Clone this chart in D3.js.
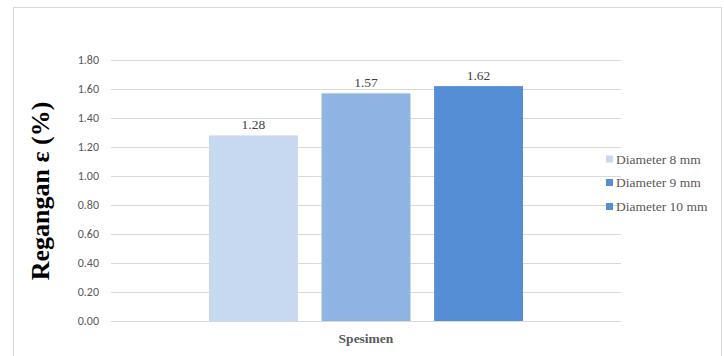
<!DOCTYPE html>
<html>
<head>
<meta charset="utf-8">
<script src="https://cdn.jsdelivr.net/npm/d3@7"></script>
<style>
  html, body { margin: 0; padding: 0; background: #fff; }
  svg { display: block; }
  .serif { font-family: "Liberation Serif", "Times New Roman", Tinos, "DejaVu Serif", serif; }
</style>
</head>
<body>
<svg id="chart" width="724" height="356"></svg>
<script>
// Strain per specimen diameter
const categories = ["Spesimen"];
const seriesNames = ["Diameter 8 mm", "Diameter 9 mm", "Diameter 10 mm"];
const seriesValues = [1.28, 1.57, 1.62];
const barColors = ["#c6d9f0", "#8eb4e3", "#558ed5"];
const legendColors = ["#c6d9f0", "#558ed5", "#558ed5"];
const yTicks = [0, 0.2, 0.4, 0.6, 0.8, 1.0, 1.2, 1.4, 1.6, 1.8];

const svg = d3.select("#chart");

// Outer chart frame
svg.append("rect")
  .attr("x", 13.5).attr("y", 7.5)
  .attr("width", 708).attr("height", 360)
  .attr("fill", "#fff").attr("stroke", "#d9d9d9").attr("stroke-width", 1);

const plot = { left: 111, right: 621, top: 60, bottom: 321 };

const y = d3.scaleLinear().domain([0, 1.8]).range([plot.bottom, plot.top]);
const x0 = d3.scaleBand().domain(categories).range([plot.left, plot.right])
  .paddingInner(0).paddingOuter(0.312);
const x1 = d3.scaleBand().domain(seriesNames).range([0, x0.bandwidth()])
  .paddingInner(0.21).paddingOuter(0);

// Gridlines
svg.append("g").selectAll("line").data(yTicks).join("line")
  .attr("x1", plot.left).attr("x2", plot.right)
  .attr("y1", d => Math.round(y(d)) + 0.5).attr("y2", d => Math.round(y(d)) + 0.5)
  .attr("stroke", "#d9d9d9").attr("stroke-width", 1);

// Y axis tick labels
const yAxis = d3.axisLeft(y).tickValues(yTicks).tickFormat(d3.format(".2f"))
  .tickSize(0).tickPadding(0);
const gy = svg.append("g").attr("transform", `translate(${plot.left - 12},0)`).call(yAxis);
gy.select(".domain").remove();
gy.selectAll("text")
  .attr("fill", "#595959")
  .style("font-family", "Carlito, 'Liberation Sans', sans-serif")
  .style("font-size", "12px");

// Bars
const groups = svg.append("g").selectAll("g").data(categories).join("g")
  .attr("transform", d => `translate(${x0(d)},0)`);

groups.selectAll("rect").data(seriesNames.map((s, i) => ({ s, v: seriesValues[i], c: barColors[i] })))
  .join("rect")
  .attr("x", d => x1(d.s))
  .attr("width", x1.bandwidth())
  .attr("y", d => y(d.v))
  .attr("height", d => y(0) - y(d.v))
  .attr("fill", d => d.c);

// Value labels
groups.selectAll("text").data(seriesNames.map((s, i) => ({ s, v: seriesValues[i] })))
  .join("text")
  .attr("class", "serif")
  .attr("x", d => x1(d.s) + x1.bandwidth() / 2)
  .attr("y", d => y(d.v) - 6)
  .attr("text-anchor", "middle")
  .attr("fill", "#404040")
  .style("font-size", "13.5px")
  .text(d => d.v.toFixed(2));

// X axis title
svg.append("text")
  .attr("class", "serif")
  .attr("x", (plot.left + plot.right) / 2)
  .attr("y", 343)
  .attr("text-anchor", "middle")
  .attr("fill", "#595959")
  .style("font-weight", "bold")
  .style("font-size", "13.5px")
  .text(categories[0]);

// Y axis title
svg.append("text")
  .attr("class", "serif")
  .attr("transform", "translate(49,191) rotate(-90)")
  .attr("text-anchor", "middle")
  .attr("fill", "#000")
  .style("font-weight", "bold")
  .style("font-size", "26px")
  .text("Regangan ε (%)");

// Legend
const legend = svg.append("g").attr("transform", "translate(606,0)");
const legendY = [159, 182.5, 206.5];
const li = legend.selectAll("g").data(seriesNames).join("g")
  .attr("transform", (d, i) => `translate(0,${legendY[i]})`);
li.append("rect")
  .attr("x", 0).attr("y", -3.5).attr("width", 7).attr("height", 7)
  .attr("fill", (d, i) => legendColors[i]);
li.append("text")
  .attr("class", "serif")
  .attr("x", 10).attr("y", 4.5)
  .attr("fill", "#595959")
  .style("font-size", "13.5px")
  .text(d => d);
</script>
</body>
</html>
